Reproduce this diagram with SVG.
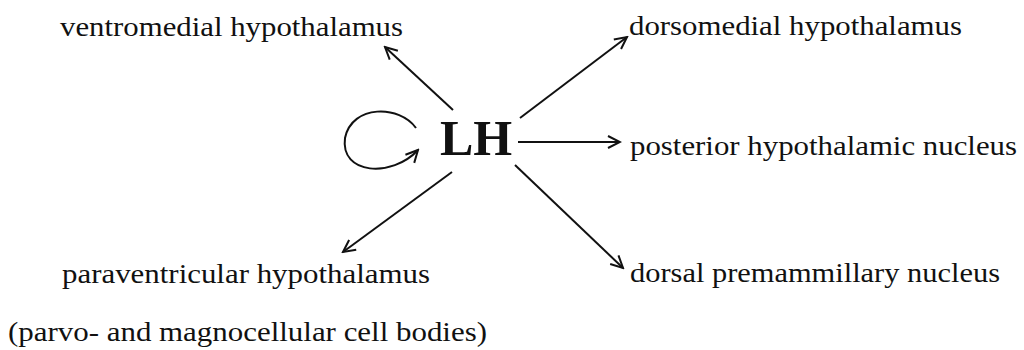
<svg xmlns="http://www.w3.org/2000/svg" width="1024" height="350" viewBox="0 0 1024 350">
<style>
.t{font-family:"Liberation Serif","Times New Roman",serif;font-size:28px;fill:#111}
.c{stroke:#111;stroke-width:2;fill:none}
</style>
<defs>
<marker id="a" markerWidth="16" markerHeight="16" refX="14" refY="8" orient="auto" markerUnits="userSpaceOnUse">
<path d="M2,2 L14,8 L2,14" fill="none" stroke="#111" stroke-width="2"/>
</marker>
</defs>
<rect width="1024" height="350" fill="#fff"/>
<g id="lh"><text x="440" y="155" style="font-family:'Liberation Serif','Times New Roman',serif;font-size:50px;font-weight:bold;fill:#111">LH</text></g>
<g id="vmh"><text class="t" x="60" y="36" textLength="343" lengthAdjust="spacingAndGlyphs">ventromedial hypothalamus</text></g>
<g id="dmh"><text class="t" x="629" y="35" textLength="333" lengthAdjust="spacingAndGlyphs">dorsomedial hypothalamus</text></g>
<g id="ph"><text class="t" x="630" y="155" textLength="387" lengthAdjust="spacingAndGlyphs">posterior hypothalamic nucleus</text></g>
<g id="pvh"><text class="t" x="62" y="283" textLength="368" lengthAdjust="spacingAndGlyphs">paraventricular hypothalamus</text><text class="t" x="8" y="341" textLength="479" lengthAdjust="spacingAndGlyphs">(parvo- and magnocellular cell bodies)</text></g>
<g id="pmd"><text class="t" x="630" y="282" textLength="370" lengthAdjust="spacingAndGlyphs">dorsal premammillary nucleus</text></g>
<g id="connectors">
<path class="c" d="M453,110 L385,47" marker-end="url(#a)"/>
<path class="c" d="M520,118 L627,37" marker-end="url(#a)"/>
<path class="c" d="M518,142 L620,142" marker-end="url(#a)"/>
<path class="c" d="M452,172 L343,252" marker-end="url(#a)"/>
<path class="c" d="M515,165 L623,268" marker-end="url(#a)"/>
<path class="c" d="M416,128 C400,105 352,104 345,138 C340,175 392,178 418,150" marker-end="url(#a)"/>
</g>
</svg>
